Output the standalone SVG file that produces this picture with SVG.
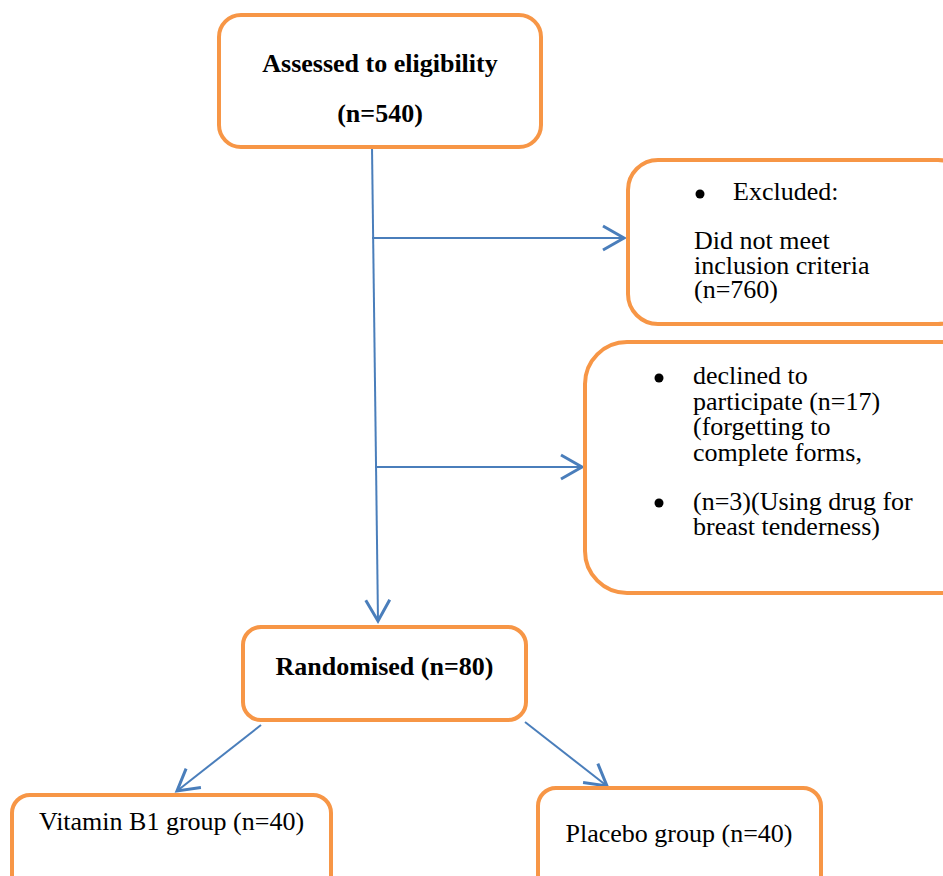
<svg xmlns="http://www.w3.org/2000/svg" width="943" height="876" viewBox="0 0 943 876">
<style>
.box{fill:#fff;stroke:#F79646;stroke-width:4}
.t{font-family:"Liberation Serif","Times New Roman",serif;font-size:26px;fill:#000}
.b{font-weight:bold}
.c{stroke:#4A7EBB;stroke-width:2;fill:none}
</style>
<defs>
<marker id="ah" markerUnits="userSpaceOnUse" markerWidth="30" markerHeight="30" refX="0" refY="0" viewBox="-16 -10 18 20" orient="auto" overflow="visible">
<path d="M-14,-8 L0,0 L-14,8" fill="none" stroke="#4A7EBB" stroke-width="2"/>
</marker>
</defs>
<rect width="943" height="876" fill="#fff"/>
<g id="connectors">
<line class="c" x1="372" y1="147" x2="378" y2="621" marker-end="url(#ah)"/>
<line class="c" x1="372" y1="238" x2="624" y2="238" marker-end="url(#ah)"/>
<line class="c" x1="375" y1="467" x2="582" y2="467" marker-end="url(#ah)"/>
<line class="c" x1="261" y1="725" x2="177" y2="791" marker-end="url(#ah)"/>
<line class="c" x1="525" y1="722" x2="607" y2="786" marker-end="url(#ah)"/>
</g>
<g id="assessed">
<rect class="box" x="219" y="15" width="322" height="132" rx="22"/>
<text class="t b" x="380" y="72" text-anchor="middle">Assessed to eligibility</text>
<text class="t b" x="380" y="122" text-anchor="middle">(n=540)</text>
</g>
<g id="excluded">
<rect class="box" x="628" y="160" width="340" height="164" rx="30"/>
<circle cx="700" cy="194" r="4.5" fill="#000"/>
<text class="t" x="733" y="200">Excluded:</text>
<text class="t" x="694" y="249">Did not meet</text>
<text class="t" x="694" y="274">inclusion criteria</text>
<text class="t" x="694" y="298">(n=760)</text>
</g>
<g id="declined">
<rect class="box" x="585" y="342" width="400" height="251" rx="42"/>
<circle cx="659" cy="378" r="4.5" fill="#000"/>
<text class="t" x="693" y="384">declined to</text>
<text class="t" x="693" y="409.5">participate (n=17)</text>
<text class="t" x="693" y="435">(forgetting to</text>
<text class="t" x="693" y="460.5">complete forms,</text>
<circle cx="659" cy="503" r="4.5" fill="#000"/>
<text class="t" x="693" y="510">(n=3)(Using drug for</text>
<text class="t" x="693" y="535">breast tenderness)</text>
</g>
<g id="randomised">
<rect class="box" x="243" y="627" width="283" height="93" rx="18"/>
<text class="t b" x="384.5" y="675" text-anchor="middle">Randomised (n=80)</text>
</g>
<g id="vitamin">
<rect class="box" x="12" y="795" width="319" height="120" rx="18"/>
<text class="t" x="171.5" y="830" text-anchor="middle">Vitamin B1 group (n=40)</text>
</g>
<g id="placebo">
<rect class="box" x="538" y="788" width="283" height="120" rx="18"/>
<text class="t" x="679" y="842" text-anchor="middle">Placebo group (n=40)</text>
</g>
</svg>
